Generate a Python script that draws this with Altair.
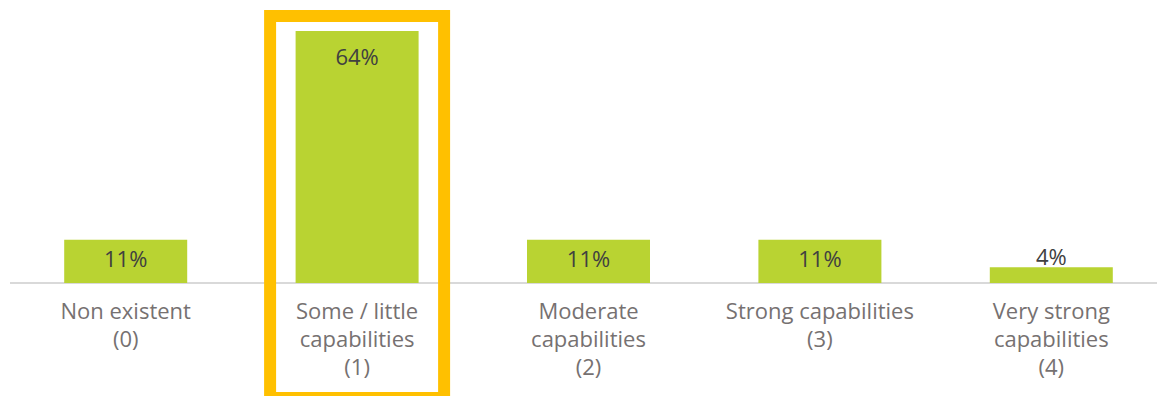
import altair as alt
import pandas as pd

categories = ["Non existent (0)", "Some / little capabilities (1)", "Moderate capabilities (2)",
              "Strong capabilities (3)", "Very strong capabilities (4)"]
axis_labels = ["Non existent\n(0)", "Some / little\ncapabilities\n(1)", "Moderate\ncapabilities\n(2)",
               "Strong capabilities\n(3)", "Very strong\ncapabilities\n(4)"]
values = [11, 64, 11, 11, 4]
value_labels = ["11%", "64%", "11%", "11%", "4%"]
highlight = ["Some / little capabilities (1)"]

df = pd.DataFrame({"cat": categories, "axis_label": axis_labels, "value": values,
                   "label": value_labels, "zero": [0] * len(values)})
df["hl"] = df["cat"].isin(highlight)

FONT = "Open Sans"
xs = alt.X("cat:N", sort=categories, axis=None,
           scale=alt.Scale(range=[10, 1167], paddingInner=0, paddingOuter=0))
ys = alt.Scale(domain=[-28.7, 71.87])

base = alt.Chart(df)

bars = base.mark_bar(color="#B9D332", size=123).encode(
    x=xs,
    y=alt.Y("value:Q", scale=ys, axis=None),
    y2="zero:Q",
)

baseline = base.mark_rule(color="#D9D9D9", strokeWidth=2).encode(
    x=alt.value(10), x2=alt.value(1157), y=alt.Y("zero:Q", scale=ys, axis=None)
)

def val_layer(flt, dy):
    return base.transform_filter(flt).mark_text(
        font=FONT, fontSize=22, color="#404040", baseline="middle", dy=dy
    ).encode(
        x=xs,
        y=alt.Y("value:Q", scale=ys, axis=None),
        text="label:N",
    )

vals_big = val_layer("datum.value > 50", 27)
vals_mid = val_layer("datum.value >= 8 && datum.value <= 50", 20)
vals_small = val_layer("datum.value < 8", -9)

cat_text = base.mark_text(font=FONT, fontSize=22, color="#767171", baseline="top",
                          lineBreak="\n", lineHeight=28).encode(
    x=xs,
    y=alt.value(302),
    text="axis_label:N",
)

box = base.transform_filter("datum.hl").mark_bar(
    fill="transparent", stroke="#FFC000", strokeWidth=12, size=174
).encode(
    x=xs,
    y=alt.value(16),
    y2=alt.value(398),
)

chart = alt.layer(baseline, bars, vals_big, vals_mid, vals_small, cat_text, box).properties(
    width=1157, height=396, padding=0, autosize=alt.AutoSizeParams(type="none")
).configure_view(stroke=None)

chart.save("out.html", embed_options={"renderer": "svg", "actions": False})
